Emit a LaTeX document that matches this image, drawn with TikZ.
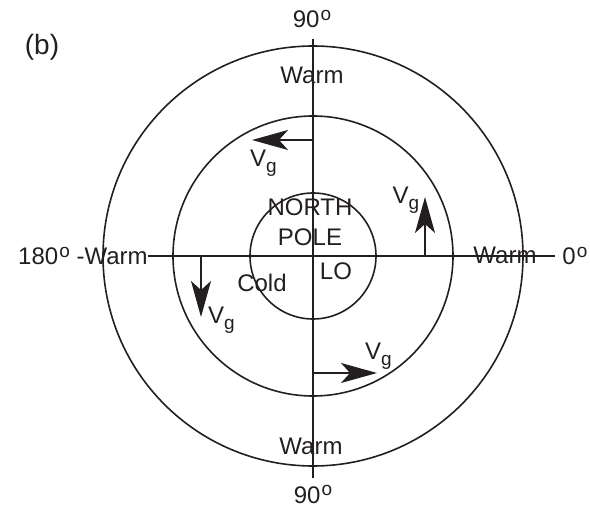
\documentclass[tikz,border=0pt]{standalone}
\usepackage{fontspec}
\setsansfont{Liberation Sans}
\usepackage{xcolor}
\usepackage{tikz}
\usetikzlibrary{positioning,arrows.meta}
\definecolor{ink}{RGB}{35,31,32}
\newcommand{\dg}{\kern0.5pt\raisebox{3.9pt}{\fontsize{9.5}{10}\selectfont o}}
\newcommand{\vg}{V\raisebox{-2.8pt}{\fontsize{9.5}{10}\selectfont g}}
\tikzset{
  lbl/.style={font=\sffamily\fontsize{12}{14}\selectfont,text=ink,inner sep=0pt},
  ring/.style={draw=ink,line width=0.8pt},
  axis/.style={draw=ink,line width=0.65pt},
  wind/.style={-{Stealth[length=18pt,width=10pt,inset=4.5pt]},draw=ink,line width=0.75pt},
}

\begin{document}
\begin{tikzpicture}[x=0.5pt,y=-0.5pt]
  \useasboundingbox (0,0) rectangle (590,508);
  \coordinate (c) at (313,256);

  \draw[ring] (c) circle (210);
  \draw[ring] (c) circle (140);
  \draw[ring] (c) circle (63);

  \node[lbl,font=\sffamily\fontsize{14}{16}\selectfont] (fig) at (42,47) {(b)};
  \node[lbl,anchor=base] (top) at (312,28) {90\dg};
  \node[lbl,anchor=base] (bot) at (313,503) {90\dg};
  \node[lbl,anchor=east] (west) at (148,256) {180\dg\ -Warm};
  \node[lbl,anchor=west] (east) at (562,256) {0\dg};
  \node[lbl] (warmn) at (312,75) {Warm};
  \node[lbl] (warms) at (311,446) {Warm};
  \node[lbl] (warme) at (505,255) {Warm};

  \node[lbl] (north) at (310,207) {NORTH};
  \node[lbl,below=6.4pt of north] (pole) {POLE};
  \node[lbl] (lo) at (336,271) {LO};
  \node[lbl] (cold) at (262,283) {Cold};

  \draw[axis,shorten <=5pt,shorten >=3.5pt] (c |- top.south) -- (c |- bot.north);
  \draw[axis,shorten >=3.5pt] (west.east |- c) -- (east.west |- c);

  \coordinate (vn0) at (313,140);
  \coordinate (vn1) at (252,140);
  \coordinate (ve0) at (425,257);
  \coordinate (ve1) at (425,197);
  \coordinate (vs0) at (313,373);
  \coordinate (vs1) at (377,373);
  \coordinate (vw0) at (201,257);
  \coordinate (vw1) at (201,317);

  \draw[wind] (vn0) -- (vn1);
  \draw[wind] (ve0) -- (ve1);
  \draw[wind] (vs0) -- (vs1);
  \draw[wind] (vw0) -- (vw1);

  \node[lbl] (gn) at (263.5,163.5) {\vg};
  \node[lbl] (ge) at (406,200) {\vg};
  \node[lbl] (gs) at (378.5,356.5) {\vg};
  \node[lbl] (gw) at (221.5,320.5) {\vg};
\end{tikzpicture}
\end{document}
